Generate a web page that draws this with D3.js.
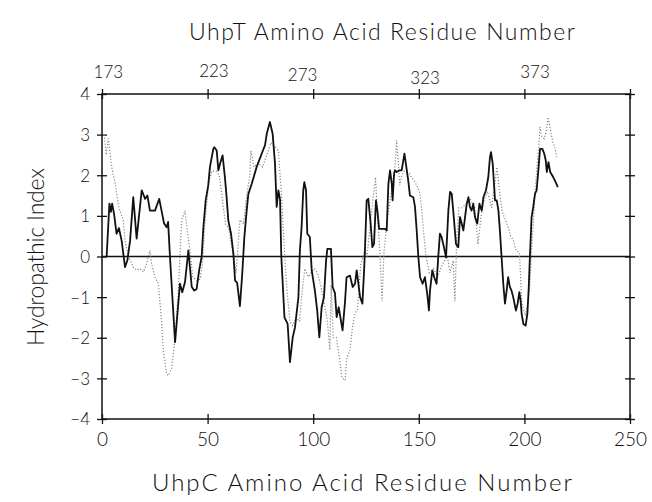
<!DOCTYPE html>
<html><head><meta charset="utf-8">
<script src="https://cdn.jsdelivr.net/npm/d3@7"></script>
<style>
html,body{margin:0;padding:0;background:#fff;}
svg{display:block;}
text{font-family:Lato,"DejaVu Sans",sans-serif;font-weight:300;fill:#111;}
</style></head>
<body><svg id="c" width="652" height="502"></svg>
<script>
// UhpC hydropathy (solid)
const uhpcX = [2.2,3.5,4.2,4.8,5.7,6.9,8.0,9.3,10.9,12.0,13.3,14.8,16.4,18.8,20.4,21.5,22.7,25.1,27.1,29.4,30.6,31.3,32.2,34.6,36.9,38.0,39.3,40.9,42.5,43.7,44.8,46.0,47.2,48.0,49.1,50.3,51.1,52.7,53.2,54.3,55.1,56.0,57.1,58.2,59.0,59.8,61.1,62.2,63.0,64.0,65.3,66.4,67.4,68.5,69.3,70.9,73.2,75.6,77.2,78.0,79.5,80.8,81.9,82.7,83.5,84.3,84.9,86.4,87.9,89.0,90.3,91.4,93.0,93.7,94.5,95.3,95.8,96.6,97.2,98.4,99.3,100.8,101.9,102.9,104.0,105.1,106.1,106.7,108.4,109.2,110.3,111.1,112.1,113.9,115.0,115.8,117.4,118.7,119.8,120.6,122.2,123.3,124.1,124.5,125.3,126.1,127.2,128.0,128.8,129.7,130.4,131.2,132.4,134.0,134.8,135.6,136.4,137.2,137.6,138.3,138.7,139.5,140.8,141.9,143.2,143.9,145.0,145.8,147.4,148.2,149.0,149.8,150.6,151.8,152.9,154.0,154.8,155.3,156.4,157.3,158.4,159.2,160.0,160.8,161.9,162.9,164.0,164.8,165.6,166.3,167.6,168.7,169.5,170.3,171.1,171.9,172.7,173.5,174.2,175.0,175.8,176.6,177.7,178.7,179.8,180.6,181.8,182.9,183.7,184.2,185.0,185.6,186.1,186.9,187.7,188.4,189.2,190.0,190.8,191.6,192.3,193.1,193.9,194.7,196.0,196.8,197.6,198.2,198.7,199.5,200.6,201.4,202.0,202.6,203.4,204.2,205.0,205.8,206.6,207.4,208.5,209.4,210.1,210.6,211.4,212.2,213.7,214.8,215.8];
const uhpcY = [0.0,1.30,1.10,1.30,1.05,0.56,0.70,0.39,-0.26,-0.10,0.39,1.46,0.44,1.63,1.42,1.50,1.13,1.13,1.42,0.81,0.72,0.85,-0.02,-2.11,-0.67,-0.88,-0.63,0.15,-0.75,-0.84,-0.80,-0.34,0.0,0.72,1.38,1.75,2.20,2.65,2.69,2.61,2.12,2.30,2.49,1.95,1.46,0.89,0.56,0.07,-0.59,-0.65,-1.22,-0.43,0.48,1.13,1.54,1.79,2.20,2.53,2.74,3.02,3.31,3.02,2.30,1.22,1.63,1.40,0.0,-1.50,-1.66,-2.60,-1.99,-1.74,-1.00,0.15,0.72,1.63,1.83,1.63,0.56,0.48,-0.34,-0.84,-1.33,-1.99,-1.25,-1.00,-0.10,0.19,0.19,-0.75,-0.90,-1.49,-1.25,-1.82,-1.16,-0.51,-0.47,-0.75,-0.67,-0.34,-1.00,-1.16,-0.34,0.15,1.38,1.42,0.81,0.23,0.31,1.38,1.13,0.68,0.68,0.68,0.64,1.79,2.12,1.79,1.38,2.04,2.12,2.08,2.12,2.12,2.53,2.28,1.87,1.50,1.46,1.22,0.64,-0.02,-0.51,-0.67,-0.51,-0.92,-1.33,-0.84,-0.34,-0.51,-0.67,-0.02,0.56,0.48,0.23,-0.02,1.13,1.59,1.54,1.13,0.31,0.23,0.97,0.81,0.64,0.97,1.30,1.46,1.22,1.13,1.30,0.97,0.81,1.30,1.13,1.46,1.63,1.95,2.45,2.57,2.28,1.79,1.38,1.38,1.13,0.64,-0.02,-0.67,-1.16,-0.84,-0.51,-0.75,-0.84,-1.00,-1.33,-1.16,-0.88,-1.08,-1.41,-1.66,-1.70,-1.41,-0.84,-0.02,0.97,1.22,1.54,1.63,2.12,2.65,2.65,2.53,2.37,2.08,2.32,2.08,1.95,1.83,1.71];
// UhpT hydropathy (dotted)
const uhptX = [1.0,2.0,3.0,4.6,6.2,8.0,10.1,10.9,12.5,14.8,16.4,18.0,19.6,21.1,22.7,23.5,25.1,26.7,28.3,29.0,30.6,31.4,33.0,34.6,36.1,37.7,39.3,40.1,41.5,43.0,45.0,46.5,47.5,49.0,50.5,52.0,54.0,55.5,57.0,58.5,60.0,62.0,63.5,65.3,67.0,68.5,70.0,70.5,72.0,74.0,76.0,78.0,80.0,82.0,83.5,85.0,86.0,87.5,89.0,90.3,92.0,93.5,94.5,96.0,97.7,99.0,100.5,102.0,103.5,105.0,106.5,107.9,108.5,109.5,111.0,112.5,113.6,115.1,115.9,117.4,118.7,119.8,121.0,122.5,124.5,125.5,127.0,128.5,129.5,130.4,131.5,132.6,133.5,134.8,136.4,137.6,138.7,139.5,140.3,141.0,141.9,143.2,145.5,146.5,148.0,149.5,150.6,151.4,152.5,153.4,155.0,157.0,159.0,161.0,163.5,164.8,166.3,167.1,168.0,169.0,170.5,172.5,174.5,176.5,178.0,179.5,181.0,182.5,184.5,185.5,187.0,188.0,189.5,191.0,192.5,193.5,194.8,196.0,197.6,198.2,198.7,199.5,200.5,201.5,202.6,203.4,204.2,205.0,205.8,206.9,207.4,208.2,209.4,210.4,211.3,212.0,213.5,214.3,215.3];
const uhptY = [3.0,2.5,2.9,2.2,1.8,1.2,0.89,0.39,0.0,-0.26,-0.34,-0.30,-0.38,-0.18,0.15,-0.18,-0.51,-0.67,-1.66,-2.31,-2.89,-2.93,-2.75,-1.99,-0.9,0.89,1.13,0.75,0.2,-0.5,-0.6,-0.55,-0.2,1.0,1.8,2.1,2.1,2.0,1.4,0.8,0.7,0.1,-0.4,0.9,0.8,1.5,2.0,2.6,2.2,2.3,2.2,2.5,2.8,2.7,2.6,1.5,0.5,-0.8,-1.6,-1.7,-1.5,-1.6,-1.0,-0.3,-0.5,-0.4,-0.3,-0.4,-0.7,-1.1,-1.5,-2.3,-0.7,-2.0,-2.0,-2.5,-2.97,-3.05,-2.5,-2.3,-1.7,-1.4,-1.3,-0.2,0.15,0.0,0.8,1.5,1.95,1.0,0.2,-1.1,0.1,0.8,1.4,1.8,2.2,2.86,2.3,1.75,2.0,2.1,2.05,1.95,1.85,1.7,1.55,1.13,0.48,0.0,-0.4,-0.3,-0.5,-0.2,0.0,-0.4,-0.1,-1.1,0.5,1.2,1.2,1.3,1.4,1.2,0.3,1.0,1.4,1.6,1.2,1.6,2.2,1.7,1.1,0.9,0.7,0.5,0.4,0.15,0.1,-0.5,-1.1,-1.3,-1.45,-1.2,-0.67,0.15,0.8,1.55,2.1,2.78,3.19,2.95,2.9,3.1,3.43,3.2,2.8,2.7,2.45];

const xTicks = [0,50,100,150,200,250];
const yTicks = [-4,-3,-2,-1,0,1,2,3,4];
const topLabels = ["173","223","273","323","373"];
const topLabelAt = [3,53,95,153,205];
const topLabelDy = [0,-1,3,6,0];

const W=652,H=502;
const L=102,R=630,T=94,B=419;
const svg=d3.select("#c");
const x=d3.scaleLinear().domain([0,250]).range([L,R]);
const y=d3.scaleLinear().domain([-4,4]).range([B,T]);

// frame
svg.append("rect").attr("x",L).attr("y",T).attr("width",R-L).attr("height",B-T)
  .attr("fill","none").attr("stroke","#111").attr("stroke-width",1.5);

// axes (crossing ticks)
const tick=5;
const gl=svg.append("g").attr("transform",`translate(${L},0)`)
  .call(d3.axisLeft(y).tickValues(yTicks).tickSizeInner(tick).tickSizeOuter(0).tickFormat(d=>d<0?"\u2212"+Math.abs(d):d));
gl.select(".domain").remove();
gl.selectAll(".tick line").attr("x1",tick).attr("x2",-tick).attr("stroke","#111").attr("stroke-width",1.3);
gl.selectAll(".tick text").attr("x",-12).style("font-size","17px").attr("dy","0.35em");

const gr=svg.append("g").attr("transform",`translate(${R},0)`)
  .call(d3.axisRight(y).tickValues(yTicks).tickSizeInner(tick).tickSizeOuter(0).tickFormat(""));
gr.select(".domain").remove();
gr.selectAll(".tick line").attr("x1",-tick).attr("x2",tick).attr("stroke","#111").attr("stroke-width",1.3);

const gb=svg.append("g").attr("transform",`translate(0,${B})`)
  .call(d3.axisBottom(x).tickValues(xTicks).tickSizeInner(tick).tickSizeOuter(0));
gb.select(".domain").remove();
gb.selectAll(".tick line").attr("y1",-tick).attr("y2",tick).attr("stroke","#111").attr("stroke-width",1.3);
gb.selectAll(".tick text").attr("y",14).style("font-size","19px").attr("dy","0.71em");

const gt=svg.append("g").attr("transform",`translate(0,${T})`)
  .call(d3.axisTop(x).tickValues(xTicks).tickSizeInner(tick).tickSizeOuter(0).tickFormat(""));
gt.select(".domain").remove();
gt.selectAll(".tick line").attr("y1",tick).attr("y2",-tick).attr("stroke","#111").attr("stroke-width",1.3);

svg.selectAll(".tick text").style("fill","#111").style("font-family","Lato,'DejaVu Sans',sans-serif").style("font-weight","300");

// top labels (UhpT numbering)
svg.append("g").selectAll("text").data(topLabels).join("text")
  .attr("x",(d,i)=>x(topLabelAt[i])).attr("y",(d,i)=>78+topLabelDy[i])
  .attr("text-anchor","middle").style("font-size","17px").text(d=>d);

// zero line
svg.append("line").attr("x1",L).attr("x2",R).attr("y1",y(0)).attr("y2",y(0))
  .attr("stroke","#111").attr("stroke-width",1.6);

// lines
const line=d3.line().x(d=>x(d[0])).y(d=>y(d[1]));
svg.append("path").datum(d3.zip(uhptX,uhptY)).attr("d",line)
  .attr("fill","none").attr("stroke","#888").attr("stroke-width",1.2).attr("stroke-dasharray","1.2,1.8");
svg.append("path").datum(d3.zip(uhpcX,uhpcY)).attr("d",line)
  .attr("fill","none").attr("stroke","#111").attr("stroke-width",1.8).attr("stroke-linejoin","round");

// titles
svg.append("text").attr("x",382).attr("y",40).attr("text-anchor","middle")
  .style("font-size","23px").attr("textLength",386).attr("lengthAdjust","spacing").text("UhpT Amino Acid Residue Number");
svg.append("text").attr("x",362).attr("y",491).attr("text-anchor","middle")
  .style("font-size","24px").attr("textLength",420).attr("lengthAdjust","spacing").text("UhpC Amino Acid Residue Number");
svg.append("text").attr("transform","translate(44,257) rotate(-90)").attr("text-anchor","middle")
  .style("font-size","23px").attr("textLength",178).attr("lengthAdjust","spacing").text("Hydropathic  Index");
</script></body></html>
